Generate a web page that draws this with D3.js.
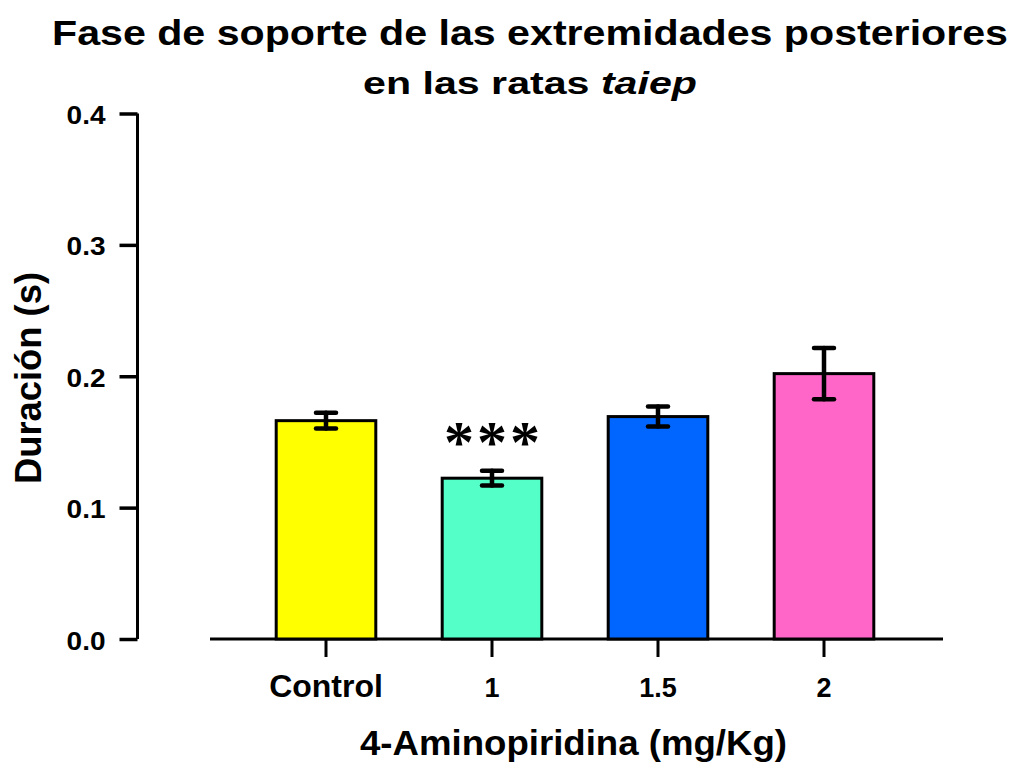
<!DOCTYPE html>
<html>
<head>
<meta charset="utf-8">
<script src="https://cdn.jsdelivr.net/npm/d3@7"></script>
<style>
  body { margin: 0; background: #fff; }
  text { font-family: "Liberation Sans", Arial, sans-serif; font-weight: bold; fill: #000; }
</style>
</head>
<body>
<div id="chart"></div>
<script>
// Chart data.
const categories = ['Control', '1', '1.5', '2'];
const means = [0.1662, 0.1224, 0.1693, 0.2020];
const errors = [0.0060, 0.0056, 0.0076, 0.0195];
const colors = ['#ffff00', '#55ffc8', '#0066ff', '#ff66c8'];
const yTicks = [0.0, 0.1, 0.2, 0.3, 0.4];
const marks = ['', '***', '', ''];

const width = 1014, height = 762;

const svg = d3.select('#chart')
    .append('svg')
    .attr('width', width)
    .attr('height', height);

// The source image has slightly widened lettering; stretch text horizontally.
function stretch(sel, k) {
    sel.each(function () {
        const len = this.getComputedTextLength();
        d3.select(this)
            .attr('textLength', len * k)
            .attr('lengthAdjust', 'spacingAndGlyphs');
    });
}

// Scales.
const y = d3.scaleLinear().domain([0, 0.4]).range([639, 113.5]);
const x = d3.scaleBand().domain(categories).range([243, 907]).paddingInner(0.4).paddingOuter(0.2);

// Title, line 1.
svg.append('text')
    .attr('x', 530)
    .attr('y', 45)
    .attr('text-anchor', 'middle')
    .style('font-size', '35px')
    .text('Fase de soporte de las extremidades posteriores')
    .attr('textLength', 956)
    .attr('lengthAdjust', 'spacingAndGlyphs');

// Title, line 2 (with italic strain name).
const line2 = svg.append('g');
const line2Text = line2.append('text')
    .attr('x', 0)
    .attr('y', 0)
    .attr('text-anchor', 'middle')
    .style('font-size', '31px');
line2Text.append('tspan').text('en las ratas ');
line2Text.append('tspan').style('font-style', 'italic').text('taiep');
const l2w = line2Text.node().getBBox().width;
line2.attr('transform', `translate(530,94) scale(${334 / l2w},1)`);

// Y axis.
const yAxis = svg.append('g')
    .attr('transform', 'translate(137.5,0)')
    .call(d3.axisLeft(y).tickValues(yTicks).tickFormat(d3.format('.1f')).tickSize(18).tickPadding(14));
yAxis.select('.domain').attr('stroke-width', 3).attr('d', `M0,${y(0.4)}V${y(0)}`);
yAxis.selectAll('.tick line').attr('stroke-width', 3.5);
yAxis.selectAll('.tick text').style('font-size', '25px').attr('dy', '0.4em');
stretch(yAxis.selectAll('.tick text'), 1.12);

// X axis.
const xAxis = svg.append('g')
    .attr('transform', 'translate(0,639)')
    .call(d3.axisBottom(x).tickSize(18).tickPadding(0));
xAxis.select('.domain').attr('stroke-width', 3).attr('d', 'M210,0H943');
xAxis.selectAll('.tick line').attr('stroke-width', 3);
xAxis.selectAll('.tick text')
    .attr('y', 58)
    .attr('dy', null)
    .style('font-size', d => d === 'Control' ? '32px' : '27px');

// Bars.
svg.append('g')
    .selectAll('rect')
    .data(categories)
    .enter()
    .append('rect')
    .attr('x', d => x(d))
    .attr('y', (d, i) => y(means[i]))
    .attr('width', x.bandwidth())
    .attr('height', (d, i) => y(0) - y(means[i]))
    .attr('fill', (d, i) => colors[i])
    .attr('stroke', '#000')
    .attr('stroke-width', 3);

// Error bars.
const err = svg.append('g')
    .selectAll('g')
    .data(categories)
    .enter()
    .append('g')
    .attr('stroke', '#000')
    .attr('stroke-width', 4.5)
    .attr('stroke-linecap', 'round');
const cx = d => x(d) + x.bandwidth() / 2;
err.append('line')
    .attr('x1', cx).attr('x2', cx)
    .attr('y1', (d, i) => y(means[i] + errors[i]))
    .attr('y2', (d, i) => y(means[i] - errors[i]));
err.append('line')
    .attr('x1', d => cx(d) - 10).attr('x2', d => cx(d) + 10)
    .attr('y1', (d, i) => y(means[i] + errors[i]))
    .attr('y2', (d, i) => y(means[i] + errors[i]));
err.append('line')
    .attr('x1', d => cx(d) - 10).attr('x2', d => cx(d) + 10)
    .attr('y1', (d, i) => y(means[i] - errors[i]))
    .attr('y2', (d, i) => y(means[i] - errors[i]));

// Significance marks.
svg.append('g')
    .selectAll('text')
    .data(categories)
    .enter()
    .append('text')
    .attr('x', d => cx(d) + 1.5)
    .attr('y', (d, i) => y(means[i] + errors[i]) - 9)
    .attr('text-anchor', 'middle')
    .style('font-family', '"Liberation Serif", "Times New Roman", serif')
    .style('font-weight', 'bold')
    .style('font-size', '60px')
    .style('letter-spacing', '3px')
    .text((d, i) => marks[i]);

// Axis labels.
svg.append('text')
    .attr('transform', 'translate(41,378) rotate(-90)')
    .attr('text-anchor', 'middle')
    .style('font-size', '36px')
    .text('Duración (s)')
    .attr('textLength', 212)
    .attr('lengthAdjust', 'spacingAndGlyphs');

svg.append('text')
    .attr('x', 573.5)
    .attr('y', 755)
    .attr('text-anchor', 'middle')
    .style('font-size', '35px')
    .text('4-Aminopiridina (mg/Kg)')
    .attr('textLength', 427)
    .attr('lengthAdjust', 'spacingAndGlyphs');
</script>
</body>
</html>
